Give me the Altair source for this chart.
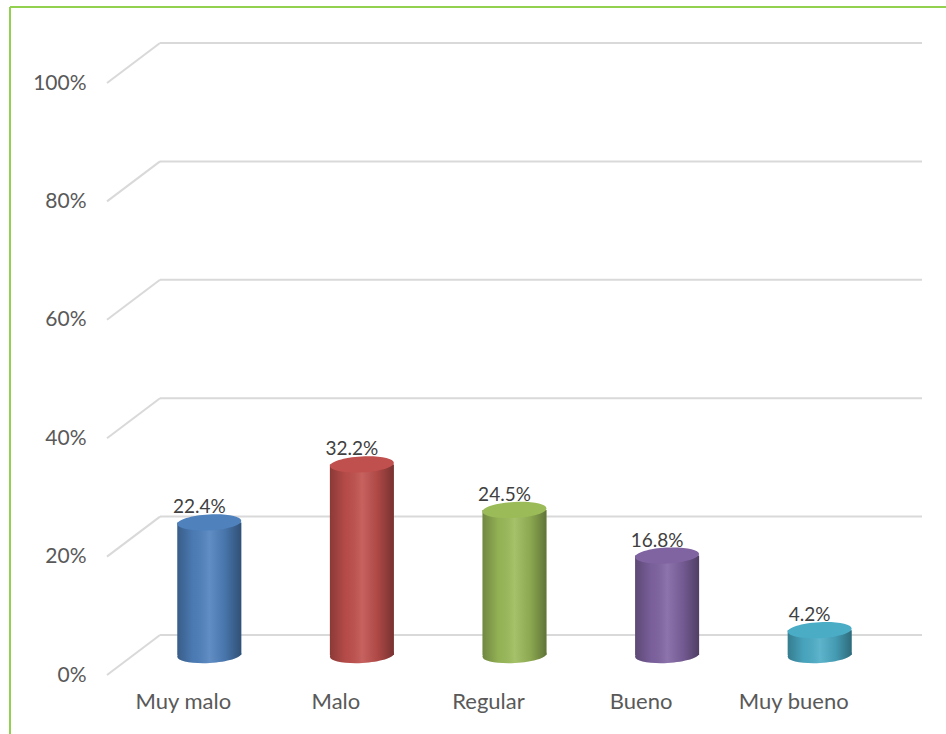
import altair as alt
import pandas as pd

categories = ["Muy malo", "Malo", "Regular", "Bueno", "Muy bueno"]
values = [0.224, 0.322, 0.245, 0.168, 0.042]
value_labels = ["22.4%", "32.2%", "24.5%", "16.8%", "4.2%"]
ticks = [0, 0.2, 0.4, 0.6, 0.8, 1.0]

base_colors = ["#4F81BD", "#C0504D", "#9BBB59", "#8064A2", "#4BACC6"]
top_colors = ["#3E6797", "#993B38", "#7A9940", "#634A85", "#378CA3"]

df = pd.DataFrame({"cat": categories, "val": values, "label": value_labels, "zero": [0.0] * len(values)})
tick_df = pd.DataFrame({"t": ticks})
one = pd.DataFrame({"a": [0]})

FONT = "Lato"
DX, DY = 26, -20          # half depth offset of the 3D look
GRID = "#D9D9D9"
ELLIPSE = "M-1,0 A1,0.25 0 1,1 1,0 A1,0.25 0 1,1 -1,0 Z"

xaxis = alt.Axis(domain=False, ticks=False, labelAngle=0, labelFont=FONT, labelFontSize=22,
                 labelColor="#595959", labelPadding=16, title=None, grid=False)
yaxis = alt.Axis(domain=False, ticks=False, grid=False, values=ticks, format=".0%", labelFont=FONT,
                 labelFontSize=21, labelColor="#595959", labelPadding=21, title=None)

xs = alt.Scale(domain=categories, paddingInner=0, paddingOuter=0)
ys = alt.Scale(domain=[0, 1], nice=False, zero=True)

X = alt.X("cat:N", sort=categories, scale=xs, axis=xaxis)
Yv = alt.Y("val:Q", scale=ys, axis=yaxis)
Yz = alt.Y("zero:Q", scale=ys, axis=yaxis)
Yt = alt.Y("t:Q", scale=ys, axis=yaxis)

shade = alt.Gradient(
    gradient="linear", x1=0, x2=1, y1=0, y2=0,
    stops=[
        alt.GradientStop(color="rgba(0,0,0,0.28)", offset=0),
        alt.GradientStop(color="rgba(0,0,0,0.05)", offset=0.25),
        alt.GradientStop(color="rgba(255,255,255,0.10)", offset=0.5),
        alt.GradientStop(color="rgba(0,0,0,0.10)", offset=0.75),
        alt.GradientStop(color="rgba(0,0,0,0.38)", offset=1),
    ],
)

border_v = alt.Chart(one).mark_rule(color="#92D050", strokeWidth=2).encode(
    x=alt.value(-97), y=alt.value(-76), y2=alt.value(660))
border_h = alt.Chart(one).mark_rule(color="#92D050", strokeWidth=2).encode(
    x=alt.value(-97), x2=alt.value(845), y=alt.value(-76))

grid_back = alt.Chart(tick_df).mark_rule(color=GRID, strokeWidth=2, yOffset=2 * DY).encode(
    y=Yt, x=alt.value(53), x2=alt.value(815))
grid_diag = alt.Chart(tick_df).mark_rule(color=GRID, strokeWidth=2, y2Offset=2 * DY).encode(
    y=Yt, y2="t:Q", x=alt.value(0), x2=alt.value(53))

color_base = alt.Color("cat:N", scale=alt.Scale(domain=categories, range=base_colors), legend=None)
color_top = alt.Color("cat:N", scale=alt.Scale(domain=categories, range=top_colors), legend=None)

bottom = alt.Chart(df).mark_point(shape=ELLIPSE, size=4096, filled=True, opacity=1, angle=357,
                                  xOffset=DX, yOffset=DY).encode(x=X, y=Yz, color=color_base)
bottom_sh = alt.Chart(df).mark_point(shape=ELLIPSE, size=4096, filled=True, opacity=1, angle=357,
                                     xOffset=DX, yOffset=DY, color=shade).encode(x=X, y=Yz)
bars = alt.Chart(df).mark_bar(size=64, xOffset=DX, yOffset=DY, y2Offset=DY).encode(
    x=X, y=Yv, y2="zero:Q", color=color_base)
bars_sh = alt.Chart(df).mark_bar(size=64, xOffset=DX, yOffset=DY, y2Offset=DY, color=shade).encode(
    x=X, y=Yv, y2="zero:Q")
tops = alt.Chart(df).mark_point(shape=ELLIPSE, size=4096, filled=True, opacity=1, angle=357,
                                xOffset=DX, yOffset=DY).encode(x=X, y=Yv, color=color_top)
text = alt.Chart(df).mark_text(dx=16, dy=-29, baseline="alphabetic", font=FONT, fontSize=19,
                               color="#404040").encode(x=X, y=Yv, text="label:N")

chart = alt.layer(
    border_v, border_h, grid_back, grid_diag, bottom, bottom_sh, bars, bars_sh, tops, text
).properties(
    width=763, height=592,
    autosize=alt.AutoSizeParams(type="none"),
    padding={"left": 107, "top": 83, "right": 76, "bottom": 59},
    background="white",
).configure_view(stroke=None)

chart.save("out.html", embed_options={"renderer": "svg", "actions": False})
